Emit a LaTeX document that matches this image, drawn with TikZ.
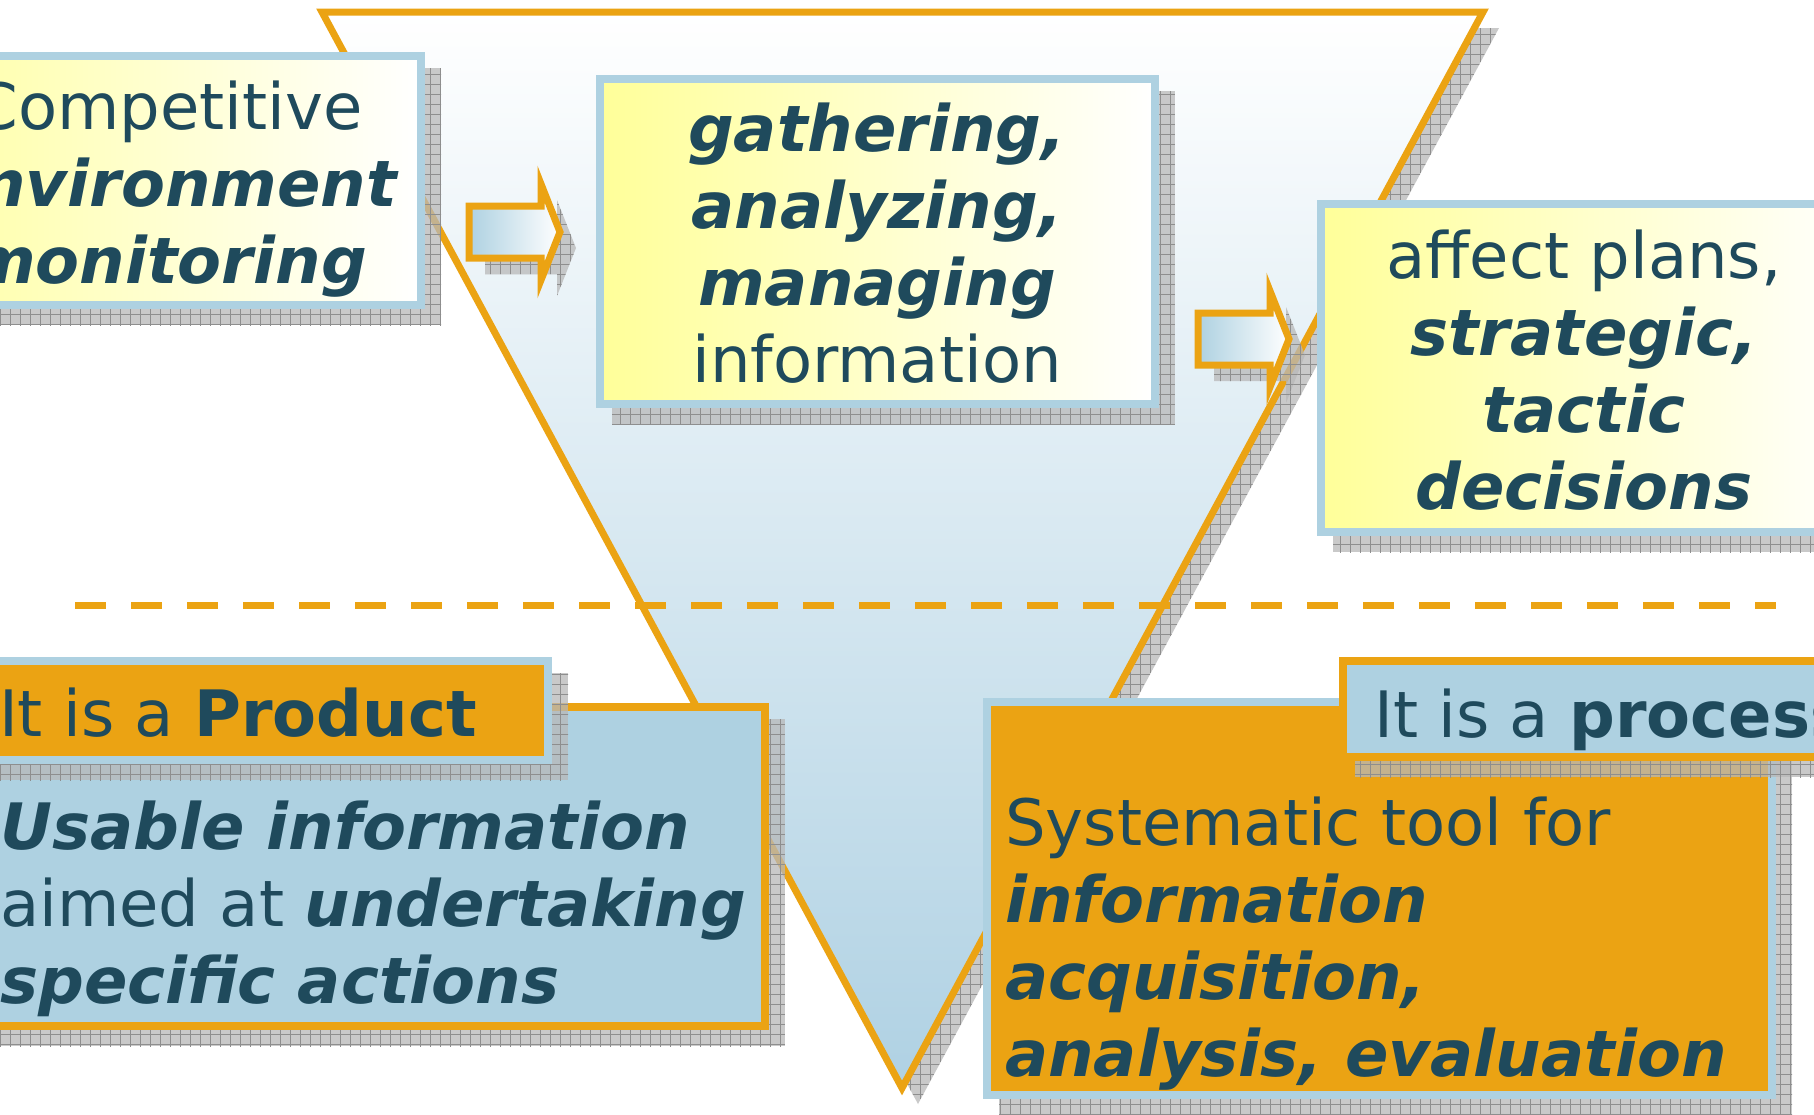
\documentclass[tikz,border=0pt]{standalone}
\usepackage{fontspec}
\setmainfont{DejaVu Sans}
\usetikzlibrary{patterns.meta}

\definecolor{Ink}{HTML}{1F4A5C}
\definecolor{Amber}{HTML}{EBA313}
\definecolor{PaleBlue}{HTML}{AED1E1}
\definecolor{FunnelBlue}{HTML}{AFD1E3}
\definecolor{Lemon}{HTML}{FFFF99}
\definecolor{ShadeGray}{HTML}{B8B8B8}
\definecolor{ShadeLine}{HTML}{8E8E8E}

\newcommand\bfit[1]{\textbf{\textit{#1}}}

\tikzset{
  shadowpaint/.style={fill=ShadeGray, fill opacity=0.75,
    postaction={pattern={Lines[distance=10pt,angle=0,line width=0.7pt]}, pattern color=ShadeLine},
    postaction={pattern={Lines[distance=10pt,angle=90,line width=0.7pt]}, pattern color=ShadeLine}},
  funnel/.style={draw=Amber, line width=7pt, top color=white, bottom color=FunnelBlue},
  yellowbox/.style={draw=PaleBlue, line width=8pt, left color=Lemon, right color=white},
  amberbox/.style={draw=PaleBlue, line width=8pt, fill=Amber},
  bluebox/.style={draw=Amber, line width=8pt, fill=PaleBlue},
  arrowbody/.style={draw=Amber, line width=7pt, left color=PaleBlue, right color=white},
  divider/.style={draw=Amber, line width=7pt, dash pattern=on 31pt off 25pt},
  txt/.style={text=Ink, inner sep=0pt, font=\fontsize{64}{77}\selectfont}
}

% rectangle with its drop shadow: style, x1, y1, x2, y2
\newcommand\panel[5]{%
  \path[shadowpaint] ({#2+12},{#3+12}) rectangle ({#4+20},{#5+20});
  \path[#1] (#2,#3) rectangle (#4,#5);}

% block arrow with its drop shadow: left end x, centre y
\newcommand\blockarrow[2]{%
  \path[shadowpaint, shift={(16,16)}] (#1,{#2-26}) -- ({#1+72},{#2-26}) -- ({#1+72},{#2-48})
    -- ({#1+91},#2) -- ({#1+72},{#2+48}) -- ({#1+72},{#2+26}) -- (#1,{#2+26}) -- cycle;
  \path[arrowbody] (#1,{#2-26}) -- ({#1+72},{#2-26}) -- ({#1+72},{#2-48})
    -- ({#1+91},#2) -- ({#1+72},{#2+48}) -- ({#1+72},{#2+26}) -- (#1,{#2+26}) -- cycle;}

\begin{document}
\begin{tikzpicture}[x=1pt, y=-1pt]
\useasboundingbox (0,0) rectangle (1814,1114);
\clip (0,0) rectangle (1814,1114);
\fill[white] (0,0) rectangle (1814,1114);

% funnel
\path[shadowpaint] (338,28) -- (1499,28) -- (918,1104) -- cycle;
\path[funnel] (322,12) -- (1483,12) -- (902,1088) -- cycle;

% top row: three stages joined by arrows
\panel{yellowbox}{-150}{56}{421}{305}
\blockarrow{469}{232}
\panel{yellowbox}{600}{79}{1155}{404}
\blockarrow{1198}{339}
\panel{yellowbox}{1321}{204}{1860}{532}

\node[txt, align=center] (monitor) at (168,189)
  {Competitive\\\bfit{environment}\\\bfit{monitoring}};
\node[txt, align=center] (gather) at (877,243)
  {\bfit{gathering,}\\\bfit{analyzing,}\\\bfit{managing}\\information};
\node[txt, align=center] (affect) at (1584,370)
  {affect plans,\\\bfit{strategic,}\\\bfit{tactic}\\\bfit{decisions}};

% dashed divider
\coordinate (divL) at (75,605);
\coordinate (divR) at (1776,605);
\draw[divider] (divL) -- (divR);

% product panel
\panel{bluebox}{-20}{707}{765}{1026}
\panel{amberbox}{-20}{661}{548}{760}
\node[txt, anchor=east] (product) at (477,713) {It is a \textbf{Product}};
\node[txt, align=left, anchor=west] (usable) at (0,909)
  {\bfit{Usable information}\\aimed at \bfit{undertaking}\\\bfit{specific actions}};

% process panel
\panel{amberbox}{987}{702}{1772}{1095}
\panel{bluebox}{1343}{661}{1860}{757}
\node[txt, anchor=west] (process) at (1374,720) {It is a \textbf{process}};
\node[txt, align=left, anchor=west] (systool) at (1005,944)
  {Systematic tool for\\\bfit{information}\\\bfit{acquisition,}\\\bfit{analysis, evaluation}};
\end{tikzpicture}
\end{document}
